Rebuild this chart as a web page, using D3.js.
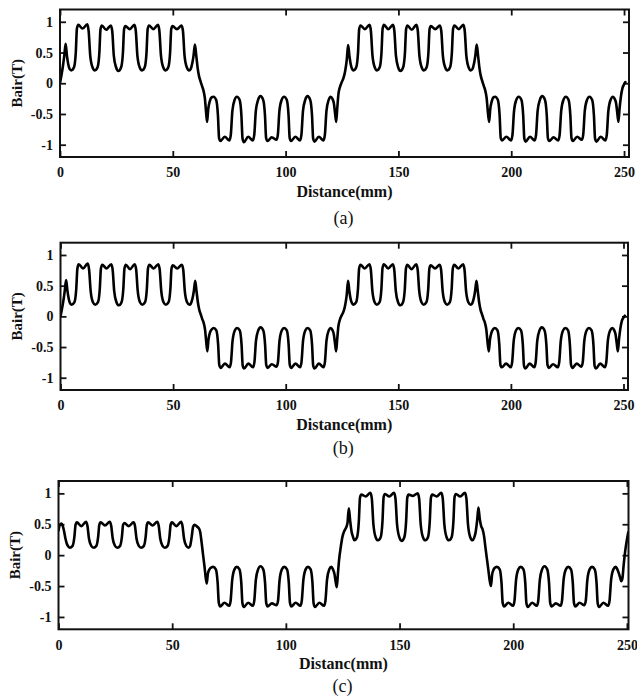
<!DOCTYPE html>
<html>
<head>
<meta charset="utf-8">
<script src="https://cdn.jsdelivr.net/npm/d3@7"></script>
<style>
    body { margin: 0; background: #ffffff; }
    svg { display: block; }
</style>
</head>
<body>
<svg id="Chart"></svg>
<script>
// sample positions along the air gap (mm), shared by the three waveforms
const distance = [
    0, 0.6, 1.3, 1.9, 2.5, 3.1, 3.7, 4.3,
    5.0, 6.2, 7.0, 7.5, 8.1, 10.0, 12.1, 12.7, 13.4, 14.4,
    15.45, 16.65, 17.45, 17.95, 18.55, 20.45, 22.55, 23.15, 23.85, 24.85,
    25.9, 27.1, 27.9, 28.4, 29.0, 30.9, 33.0, 33.6, 34.3, 35.3,
    36.35, 37.55, 38.35, 38.85, 39.45, 41.35, 43.45, 44.05, 44.75, 45.75,
    46.8, 48.0, 48.8, 49.3, 49.9, 51.8, 53.9, 54.5, 55.2, 56.2,
    57.25, 57.9, 58.6, 59.2, 59.8, 60.4, 61.0, 61.6, 62.3, 62.9, 63.6, 64.2, 64.7, 65.2, 65.7, 66.4, 67.2,
    68.0, 69.2, 70.0, 70.5, 71.1, 73.0, 75.1, 75.7, 76.4, 77.4,
    78.4, 79.6, 80.4, 80.9, 81.5, 83.4, 85.5, 86.1, 86.8, 87.8,
    88.85, 90.05, 90.85, 91.35, 91.95, 93.85, 95.95, 96.55, 97.25, 98.25,
    99.3, 100.5, 101.3, 101.8, 102.4, 104.3, 106.4, 107.0, 107.7, 108.7,
    109.7, 110.9, 111.7, 112.2, 112.8, 114.7, 116.8, 117.4, 118.1, 119.1,
    120.0, 120.7, 121.4, 121.9, 122.4, 122.9, 123.4, 124.1, 124.9, 125.7, 126.4, 127.1, 127.7, 128.3, 128.9, 129.5,
    130.1, 131.3, 132.1, 132.6, 133.2, 135.1, 137.2, 137.8, 138.5, 139.5,
    140.5, 141.7, 142.5, 143.0, 143.6, 145.5, 147.6, 148.2, 148.9, 149.9,
    150.9, 152.1, 152.9, 153.4, 154.0, 155.9, 158.0, 158.6, 159.3, 160.3,
    161.3, 162.5, 163.3, 163.8, 164.4, 166.3, 168.4, 169.0, 169.7, 170.7,
    171.7, 172.9, 173.7, 174.2, 174.8, 176.7, 178.8, 179.4, 180.1, 181.1,
    182.1, 182.8, 183.5, 184.1, 184.7, 185.3, 185.9, 186.5, 187.2, 187.8, 188.5, 189.1, 189.6, 190.2, 190.7, 191.4, 192.1,
    192.85, 194.05, 194.85, 195.35, 195.95, 197.85, 199.95, 200.55, 201.25, 202.25,
    203.3, 204.5, 205.3, 205.8, 206.4, 208.3, 210.4, 211.0, 211.7, 212.7,
    213.75, 214.95, 215.75, 216.25, 216.85, 218.75, 220.85, 221.45, 222.15, 223.15,
    224.2, 225.4, 226.2, 226.7, 227.3, 229.2, 231.3, 231.9, 232.6, 233.6,
    234.65, 235.85, 236.65, 237.15, 237.75, 239.65, 241.75, 242.35, 243.05, 244.05,
    245.1, 245.8, 246.5, 247.0, 247.5, 248.0, 248.6, 249.3, 250.0, 250.6
]

// Bair (T)
const bairA = [
    0, 0.12, 0.28, 0.45, 0.64, 0.44, 0.30, 0.23,
    0.21, 0.26, 0.50, 0.89, 0.95, 0.89, 0.96, 0.85, 0.45, 0.26,
    0.21, 0.26, 0.50, 0.88, 0.94, 0.87, 0.94, 0.85, 0.45, 0.26,
    0.20, 0.26, 0.50, 0.88, 0.93, 0.88, 0.95, 0.85, 0.45, 0.26,
    0.21, 0.26, 0.50, 0.88, 0.94, 0.88, 0.95, 0.85, 0.45, 0.26,
    0.21, 0.26, 0.50, 0.88, 0.93, 0.88, 0.94, 0.85, 0.45, 0.26,
    0.21, 0.23, 0.32, 0.45, 0.63, 0.45, 0.25, 0.12, 0.03, -0.04, -0.12, -0.24, -0.45, -0.63, -0.42, -0.29, -0.23,
    -0.22, -0.27, -0.52, -0.89, -0.94, -0.87, -0.93, -0.84, -0.45, -0.27,
    -0.22, -0.27, -0.52, -0.90, -0.96, -0.87, -0.93, -0.84, -0.45, -0.27,
    -0.21, -0.27, -0.52, -0.89, -0.94, -0.88, -0.92, -0.84, -0.45, -0.27,
    -0.22, -0.27, -0.52, -0.89, -0.94, -0.87, -0.93, -0.84, -0.45, -0.27,
    -0.21, -0.27, -0.52, -0.90, -0.95, -0.87, -0.93, -0.84, -0.45, -0.27,
    -0.22, -0.25, -0.33, -0.48, -0.63, -0.40, -0.18, -0.06, 0.02, 0.09, 0.20, 0.38, 0.62, 0.44, 0.30, 0.23,
    0.21, 0.26, 0.50, 0.88, 0.94, 0.88, 0.95, 0.85, 0.45, 0.26,
    0.21, 0.26, 0.50, 0.89, 0.95, 0.88, 0.95, 0.85, 0.45, 0.26,
    0.20, 0.26, 0.50, 0.88, 0.94, 0.87, 0.95, 0.85, 0.45, 0.26,
    0.21, 0.26, 0.50, 0.88, 0.93, 0.88, 0.94, 0.85, 0.45, 0.26,
    0.21, 0.26, 0.50, 0.88, 0.94, 0.88, 0.95, 0.85, 0.45, 0.26,
    0.21, 0.23, 0.32, 0.45, 0.63, 0.45, 0.25, 0.12, 0.03, -0.04, -0.12, -0.24, -0.45, -0.63, -0.42, -0.29, -0.23,
    -0.22, -0.27, -0.52, -0.89, -0.93, -0.87, -0.93, -0.84, -0.45, -0.27,
    -0.22, -0.27, -0.52, -0.90, -0.95, -0.87, -0.93, -0.84, -0.45, -0.27,
    -0.21, -0.27, -0.52, -0.89, -0.94, -0.88, -0.93, -0.84, -0.45, -0.27,
    -0.22, -0.27, -0.52, -0.89, -0.94, -0.87, -0.92, -0.84, -0.45, -0.27,
    -0.22, -0.27, -0.52, -0.90, -0.95, -0.87, -0.93, -0.84, -0.45, -0.27,
    -0.22, -0.25, -0.33, -0.48, -0.63, -0.42, -0.22, -0.08, -0.02, 0.02
]

// Bair (T)
const bairB = [
    0, 0.11, 0.26, 0.42, 0.59, 0.41, 0.28, 0.21,
    0.19, 0.23, 0.45, 0.78, 0.85, 0.78, 0.86, 0.76, 0.41, 0.23,
    0.19, 0.23, 0.45, 0.78, 0.84, 0.78, 0.85, 0.76, 0.41, 0.23,
    0.18, 0.23, 0.45, 0.78, 0.84, 0.77, 0.85, 0.76, 0.41, 0.23,
    0.19, 0.23, 0.45, 0.78, 0.84, 0.78, 0.85, 0.76, 0.41, 0.23,
    0.19, 0.23, 0.45, 0.78, 0.83, 0.78, 0.84, 0.76, 0.41, 0.23,
    0.19, 0.21, 0.29, 0.41, 0.58, 0.41, 0.23, 0.11, 0.03, -0.04, -0.11, -0.22, -0.41, -0.57, -0.38, -0.26, -0.21,
    -0.19, -0.23, -0.46, -0.79, -0.84, -0.77, -0.83, -0.75, -0.40, -0.23,
    -0.19, -0.23, -0.46, -0.80, -0.85, -0.77, -0.83, -0.75, -0.40, -0.23,
    -0.18, -0.23, -0.46, -0.79, -0.84, -0.78, -0.82, -0.75, -0.40, -0.23,
    -0.19, -0.23, -0.46, -0.79, -0.84, -0.77, -0.83, -0.75, -0.40, -0.23,
    -0.19, -0.23, -0.46, -0.80, -0.85, -0.77, -0.83, -0.75, -0.40, -0.23,
    -0.19, -0.22, -0.30, -0.44, -0.57, -0.36, -0.16, -0.05, 0.02, 0.08, 0.18, 0.35, 0.58, 0.40, 0.27, 0.21,
    0.19, 0.23, 0.45, 0.78, 0.84, 0.78, 0.85, 0.76, 0.41, 0.23,
    0.19, 0.23, 0.45, 0.79, 0.85, 0.78, 0.85, 0.76, 0.41, 0.23,
    0.18, 0.23, 0.45, 0.78, 0.84, 0.77, 0.85, 0.76, 0.41, 0.23,
    0.19, 0.23, 0.45, 0.78, 0.83, 0.78, 0.84, 0.76, 0.41, 0.23,
    0.19, 0.23, 0.45, 0.78, 0.84, 0.78, 0.85, 0.76, 0.41, 0.23,
    0.19, 0.21, 0.29, 0.41, 0.58, 0.41, 0.23, 0.11, 0.03, -0.04, -0.11, -0.22, -0.41, -0.57, -0.38, -0.26, -0.21,
    -0.19, -0.23, -0.46, -0.79, -0.83, -0.77, -0.83, -0.75, -0.40, -0.23,
    -0.19, -0.23, -0.46, -0.80, -0.85, -0.77, -0.83, -0.75, -0.40, -0.23,
    -0.18, -0.23, -0.46, -0.79, -0.84, -0.78, -0.83, -0.75, -0.40, -0.23,
    -0.19, -0.23, -0.46, -0.79, -0.84, -0.77, -0.82, -0.75, -0.40, -0.23,
    -0.19, -0.23, -0.46, -0.80, -0.85, -0.77, -0.83, -0.75, -0.40, -0.23,
    -0.19, -0.22, -0.30, -0.44, -0.57, -0.38, -0.20, -0.07, -0.02, 0.01
]

// Bair (T)
const bairC = [
    0.40, 0.49, 0.51, 0.47, 0.38, 0.26, 0.18, 0.14,
    0.12, 0.15, 0.30, 0.49, 0.53, 0.47, 0.54, 0.48, 0.27, 0.15,
    0.12, 0.15, 0.30, 0.49, 0.53, 0.48, 0.54, 0.48, 0.27, 0.15,
    0.12, 0.15, 0.30, 0.49, 0.52, 0.47, 0.53, 0.48, 0.27, 0.15,
    0.12, 0.15, 0.30, 0.49, 0.53, 0.48, 0.54, 0.48, 0.27, 0.15,
    0.12, 0.15, 0.30, 0.49, 0.53, 0.47, 0.54, 0.48, 0.27, 0.15,
    0.12, 0.15, 0.30, 0.46, 0.49, 0.48, 0.46, 0.44, 0.38, 0.22, 0.00, -0.18, -0.35, -0.46, -0.30, -0.23, -0.20,
    -0.19, -0.23, -0.45, -0.77, -0.83, -0.77, -0.82, -0.74, -0.40, -0.23,
    -0.19, -0.23, -0.45, -0.78, -0.84, -0.77, -0.82, -0.74, -0.40, -0.23,
    -0.18, -0.23, -0.45, -0.77, -0.83, -0.78, -0.81, -0.74, -0.40, -0.23,
    -0.19, -0.23, -0.45, -0.77, -0.83, -0.77, -0.82, -0.74, -0.40, -0.23,
    -0.19, -0.23, -0.45, -0.78, -0.84, -0.77, -0.82, -0.74, -0.40, -0.23,
    -0.19, -0.23, -0.31, -0.43, -0.52, -0.30, -0.08, 0.12, 0.30, 0.39, 0.44, 0.52, 0.76, 0.55, 0.38, 0.30,
    0.24, 0.29, 0.55, 0.93, 0.98, 0.95, 1.01, 0.92, 0.50, 0.29,
    0.24, 0.29, 0.55, 0.94, 0.99, 0.95, 1.01, 0.92, 0.50, 0.29,
    0.23, 0.29, 0.55, 0.93, 0.98, 0.96, 1.00, 0.92, 0.50, 0.29,
    0.24, 0.29, 0.55, 0.93, 0.98, 0.95, 1.01, 0.92, 0.50, 0.29,
    0.24, 0.29, 0.55, 0.94, 0.99, 0.95, 1.01, 0.92, 0.50, 0.29,
    0.24, 0.28, 0.38, 0.55, 0.77, 0.58, 0.47, 0.42, 0.30, 0.12, -0.08, -0.25, -0.40, -0.50, -0.32, -0.23, -0.20,
    -0.19, -0.23, -0.45, -0.77, -0.83, -0.77, -0.82, -0.74, -0.40, -0.23,
    -0.19, -0.23, -0.45, -0.78, -0.84, -0.77, -0.82, -0.74, -0.40, -0.23,
    -0.18, -0.23, -0.45, -0.77, -0.83, -0.78, -0.82, -0.74, -0.40, -0.23,
    -0.19, -0.23, -0.45, -0.77, -0.83, -0.77, -0.81, -0.74, -0.40, -0.23,
    -0.19, -0.23, -0.45, -0.78, -0.84, -0.77, -0.82, -0.74, -0.40, -0.23,
    -0.19, -0.23, -0.30, -0.36, -0.42, -0.38, -0.15, 0.08, 0.25, 0.37
]

const xTicks = [0, 50, 100, 150, 200, 250]
const yTicks = [-1, -0.5, 0, 0.5, 1]
const panelNames = ["(a)", "(b)", "(c)"]
const xTitles = ["Distance(mm)", "Distance(mm)", "Distanc(mm)"]
const yTitle = "Bair(T)"

let config = {}

function initConfig() {
    let width = 637
    let height = 700
    let fontFamily = "'Liberation Serif', 'Times New Roman', serif"
    let inkColor = "#111111"
    let container = d3.select("#Chart")
        .attr("width", width)
        .attr("height", height)
    let panels = [
        {series: bairA, left: 60, right: 629, top: 9.5, bottom: 157, xMax: 252.2, nameY: 224},
        {series: bairB, left: 60.5, right: 628, top: 242.7, bottom: 390, xMax: 252, nameY: 454},
        {series: bairC, left: 58.5, right: 628.5, top: 481, bottom: 629.3, xMax: 250.7, nameY: 692}
    ]
    config = {width, height, container, fontFamily, inkColor, panels}
}

function styleAxis(sel) {
    let {fontFamily, inkColor} = config
    sel.select(".domain").remove()
    sel.selectAll(".tick line")
        .attr("stroke", inkColor)
        .attr("stroke-width", 1.8)
    sel.selectAll(".tick text")
        .attr("fill", inkColor)
        .attr("font-family", fontFamily)
        .attr("font-weight", "bold")
        .attr("font-size", "14px")
}

function drawPanel(p, i) {
    let {container, fontFamily, inkColor} = config
    let x = d3.scaleLinear().domain([0, p.xMax]).range([p.left, p.right])
    let y = d3.scaleLinear().domain([-1.2, 1.2]).range([p.bottom, p.top])
    let g = container.append("g")

    g.append("g")
        .attr("transform", `translate(0,${p.bottom})`)
        .call(d3.axisBottom(x).tickValues(xTicks).tickSizeInner(-6).tickSizeOuter(0)
            .tickPadding(10.5).tickFormat(d => String(d)))
        .call(styleAxis)

    g.append("g")
        .attr("transform", `translate(0,${p.top})`)
        .call(d3.axisTop(x).tickValues(xTicks).tickSizeInner(-6).tickSizeOuter(0).tickFormat(""))
        .call(styleAxis)

    g.append("g")
        .attr("transform", `translate(${p.left},0)`)
        .call(d3.axisLeft(y).tickValues(yTicks).tickSizeInner(-6).tickSizeOuter(0)
            .tickPadding(7).tickFormat(d => String(d)))
        .call(styleAxis)

    g.append("g")
        .attr("transform", `translate(${p.right},0)`)
        .call(d3.axisRight(y).tickValues(yTicks).tickSizeInner(-6).tickSizeOuter(0).tickFormat(""))
        .call(styleAxis)

    g.append("clipPath")
        .attr("id", "clip" + i)
        .append("rect")
        .attr("x", p.left)
        .attr("y", p.top)
        .attr("width", p.right - p.left)
        .attr("height", p.bottom - p.top)

    let points = distance.map((d, k) => [d, p.series[k]]).filter(d => d[1] !== undefined)
    let line = d3.line()
        .x(d => x(d[0]))
        .y(d => y(d[1]))
        .curve(d3.curveMonotoneX)

    g.append("path")
        .datum(points)
        .attr("clip-path", `url(#clip${i})`)
        .attr("d", line)
        .attr("fill", "none")
        .attr("stroke", "#000000")
        .attr("stroke-width", 2.6)
        .attr("stroke-linejoin", "round")
        .attr("stroke-linecap", "round")

    g.append("rect")
        .attr("x", p.left)
        .attr("y", p.top)
        .attr("width", p.right - p.left)
        .attr("height", p.bottom - p.top)
        .attr("fill", "none")
        .attr("stroke", inkColor)
        .attr("stroke-width", 2)

    let midX = (p.left + p.right) / 2
    let midY = (p.top + p.bottom) / 2

    g.append("text")
        .attr("x", midX)
        .attr("y", p.bottom + 40)
        .attr("text-anchor", "middle")
        .attr("font-family", fontFamily)
        .attr("font-weight", "bold")
        .attr("font-size", "16px")
        .attr("fill", inkColor)
        .text(xTitles[i])

    g.append("text")
        .attr("transform", `translate(${p.left - 38.5},${midY}) rotate(-90)`)
        .attr("text-anchor", "middle")
        .attr("font-family", fontFamily)
        .attr("font-weight", "bold")
        .attr("font-size", "15px")
        .attr("fill", inkColor)
        .text(yTitle)

    g.append("text")
        .attr("x", midX - 1)
        .attr("y", p.nameY)
        .attr("text-anchor", "middle")
        .attr("font-family", fontFamily)
        .attr("font-size", "18px")
        .attr("fill", inkColor)
        .text(panelNames[i])
}

function drawChart() {
    initConfig()
    config.panels.forEach((p, i) => drawPanel(p, i))
}

window.addEventListener("load", drawChart)
</script>
</body>
</html>
